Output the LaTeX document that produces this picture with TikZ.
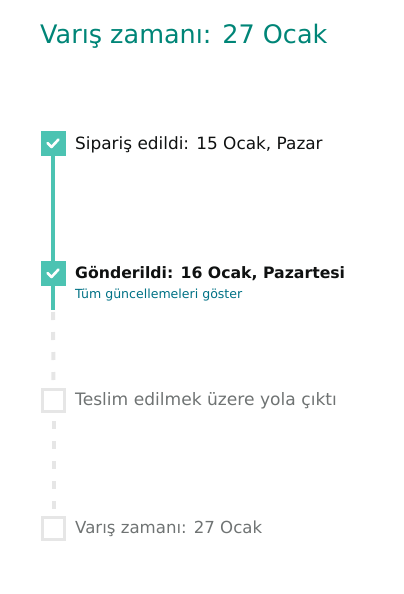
\documentclass[tikz,border=0pt]{standalone}
\usepackage{fontspec}
\setmainfont{DejaVu Sans}
\definecolor{teal}{HTML}{4CC3B2}
\definecolor{titlec}{HTML}{008577}
\definecolor{darktext}{HTML}{0F1111}
\definecolor{linkc}{HTML}{007185}
\definecolor{greytext}{HTML}{6F7373}
\definecolor{greybox}{HTML}{E6E6E6}
\begin{document}
\begin{tikzpicture}[x=1pt,y=-1pt,
  donebox/.style={draw=none,fill=teal,minimum size=25pt,inner sep=0pt},
  todobox/.style={draw=greybox,line width=3pt,fill=white,minimum size=22pt,inner sep=0pt},
  steptext/.style={anchor=base west,inner sep=0pt,font=\fontsize{16.9}{18}\selectfont,text=darktext},
  greyline/.style={draw=greybox,line width=4pt,dash pattern=on 8pt off 12pt},
  greenline/.style={draw=teal,line width=4pt}]
\useasboundingbox (0,0) rectangle (404,594);
\node[anchor=base west,inner sep=0pt,text=titlec,font=\fontsize{25.5}{28}\selectfont] (title) at (40,44) {Varış zamanı: 27 Ocak};
% boxes
\node[donebox] (b1) at (53,143.5) {};
\node[donebox] (b2) at (53,273.5) {};
\node[todobox] (b3) at (53.5,400.5) {};
\node[todobox] (b4) at (53.5,528) {};
\coordinate (g2) at (53,310);
% connectors
\draw[greenline] (b1.south) -- (b2.north);
\draw[greenline] (b2.south) -- (g2);
\draw[greyline,dash phase=18pt] (g2) -- (b3.north);
\draw[greyline,dash phase=12pt] (b3.south) -- (b4.north);
% checkmarks
\foreach \b in {b1,b2}{
  \draw[white,line width=2.6pt,line cap=round,line join=round]
    ([xshift=-5.5pt,yshift=0.5pt]\b.center) -- ([xshift=-1.5pt,yshift=-3.5pt]\b.center) -- ([xshift=5.5pt,yshift=4pt]\b.center);
}
% texts
\node[steptext] (t1) at (75,149) {Sipariş edildi: 15 Ocak, Pazar};
\node[steptext,font=\fontsize{15.7}{18}\bfseries\selectfont] (t2) at (75,278) {Gönderildi: 16 Ocak, Pazartesi};
\node[anchor=base west,inner sep=0pt,text=linkc,font=\fontsize{12.55}{14}\selectfont] (l2) at (75,298) {Tüm güncellemeleri göster};
\node[steptext,font=\fontsize{17.1}{18}\selectfont,text=greytext] (t3) at (75,405) {Teslim edilmek üzere yola çıktı};
\node[steptext,font=\fontsize{16.6}{18}\selectfont,text=greytext] (t4) at (75,533) {Varış zamanı: 27 Ocak};
\end{tikzpicture}
\end{document}
